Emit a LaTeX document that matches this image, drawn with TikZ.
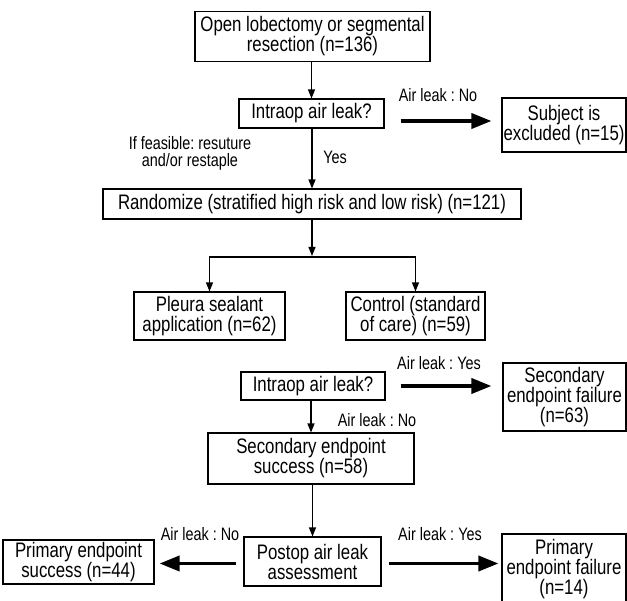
\documentclass[tikz,border=0pt]{standalone}
\usepackage{fontspec}
\setmainfont{Liberation Sans}[FakeStretch=0.80]
\usetikzlibrary{arrows.meta}
\tikzset{
  box/.style={draw, line width=1.1pt, align=center, inner sep=0pt, font=\fontsize{21}{20}\selectfont\frenchspacing},
  lbl/.style={align=center, inner sep=0pt, font=\fontsize{18}{17}\selectfont\frenchspacing},
  thinarr/.style={line width=1.2pt, -{Triangle[length=9pt,width=7pt]}},
  thickarr/.style={line width=3.6pt, -{Triangle[length=20pt,width=15pt]}},
}
\begin{document}
\begin{tikzpicture}[x=1pt,y=1pt]
\useasboundingbox[fill=white] (0,0) rectangle (627,-601);
% boxes
\node[box, minimum width=235pt, minimum height=50pt] (open) at (312.5,-36.5) {Open lobectomy or segmental\\resection (n=136)};
\node[box, minimum width=145pt, minimum height=29pt] (intra1) at (311.5,-113.5) {Intraop air leak?};
\node[box, minimum width=124pt, minimum height=54pt] (excl) at (564,-125) {Subject is\\excluded (n=15)};
\node[box, minimum width=418pt, minimum height=30pt] (rand) at (312,-204) {Randomize (stratified high risk and low risk) (n=121)};
\node[box, minimum width=151pt, minimum height=48pt] (pleura) at (209.5,-316) {Pleura sealant\\application (n=62)};
\node[box, minimum width=139pt, minimum height=48pt] (control) at (415.5,-316) {Control (standard\\of care) (n=59)};
\node[box, minimum width=144pt, minimum height=28pt] (intra2) at (313,-386) {Intraop air leak?};
\node[box, minimum width=123pt, minimum height=68pt] (secfail) at (564.5,-397) {Secondary\\endpoint failure\\(n=63)};
\node[box, minimum width=206pt, minimum height=51pt] (secsucc) at (311,-458.5) {Secondary endpoint\\success (n=58)};
\node[box, minimum width=137pt, minimum height=49pt] (postop) at (312.5,-561.5) {Postop air leak\\assessment};
\node[box, minimum width=151pt, minimum height=44pt] (primsucc) at (78.5,-562) {Primary endpoint\\success (n=44)};
\node[box, minimum width=124pt, minimum height=70pt] (primfail) at (564,-569) {Primary\\endpoint failure\\(n=14)};
% labels
\node[lbl] (l1) at (438,-95) {Air leak : No};
\node[lbl] (l2) at (335,-157) {Yes};
\node[lbl] (l3) at (190,-153.5) {If feasible: resuture\\and/or restaple};
\node[lbl] (l4) at (439,-363) {Air leak : Yes};
\node[lbl] (l5) at (377,-420) {Air leak : No};
\node[lbl] (l6) at (200,-534) {Air leak : No};
\node[lbl] (l7) at (440,-534) {Air leak : Yes};
% connectors
\coordinate (split) at (312,-257);
\draw[thinarr] (open.south -| intra1.north) -- (intra1.north);
\draw[thickarr, shorten <=16pt, shorten >=10pt] ([yshift=-7.5pt]intra1.east) -- ([yshift=-7.5pt]intra1.east -| excl.west);
\draw[thinarr] (intra1.south -| rand.north) -- (rand.north);
\draw[thinarr] (rand.south) -- ([yshift=1pt]split);
\draw[thinarr] (split) -| (pleura.north);
\draw[thinarr] (split) -| (control.north);
\draw[thickarr, shorten <=15pt, shorten >=11pt] (intra2.east) -- (intra2.east -| secfail.west);
\draw[thinarr] (intra2.south -| secsucc.north) -- (secsucc.north);
\draw[thinarr] (secsucc.south -| postop.north) -- (postop.north);
\draw[thickarr, shorten <=7pt, shorten >=5pt] ([yshift=-2pt]postop.west) -- ([yshift=-2pt]postop.west -| primsucc.east);
\draw[thickarr, shorten <=7pt, shorten >=3pt] ([yshift=-2pt]postop.east) -- ([yshift=-2pt]postop.east -| primfail.west);
\end{tikzpicture}
\end{document}
